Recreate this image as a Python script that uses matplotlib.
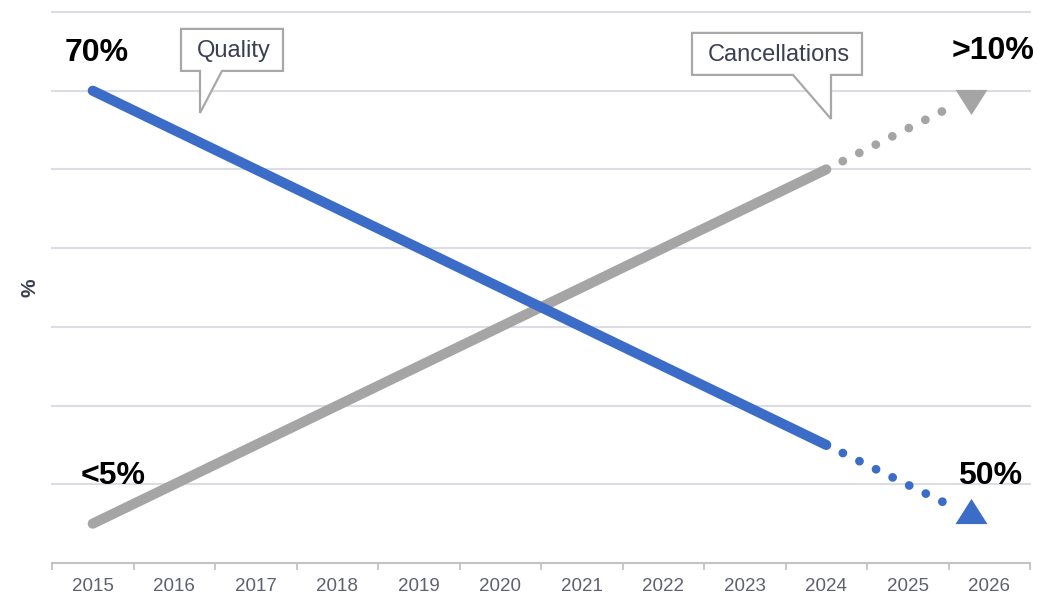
import matplotlib
matplotlib.use("Agg")
import matplotlib.pyplot as plt
from matplotlib.patches import Polygon

# ---- data (values in chart units: one gridline = 1 unit) ----
years = [2015, 2016, 2017, 2018, 2019, 2020, 2021, 2022, 2023, 2024, 2025, 2026]
hist_years = [2015, 2016, 2017, 2018, 2019, 2020, 2021, 2022, 2023, 2024]
quality = [6.0, 5.5, 5.0, 4.5, 4.0, 3.5, 3.0, 2.5, 2.0, 1.5]
cancellations = [0.5, 1.0, 1.5, 2.0, 2.5, 3.0, 3.5, 4.0, 4.5, 5.0]
proj_years = [2024, 2025.62]
quality_proj = [1.5, 0.68]
cancel_proj = [5.0, 5.84]
arrow_year = 2025.78
quality_arrow = 0.66
cancel_arrow = 5.86
label_start = ["70%", "<5%"]
label_end = ["50%", ">10%"]
series_names = ["Quality", "Cancellations"]

BLUE = "#3b6cc8"
GRAY = "#a5a5a5"
NARROW = ["Liberation Sans Narrow", "Liberation Sans", "DejaVu Sans"]
BOLD = ["Liberation Sans", "DejaVu Sans"]

fig = plt.figure(figsize=(10.53, 6.0), dpi=100)
W, H = 1053, 600
ax = fig.add_axes([52 / W, 37 / H, (1030 - 52) / W, (563 - 12) / H])

def xi(y):
    return y - years[0]

ax.set_xlim(-0.5, len(years) - 0.5)
ax.set_ylim(0, 7)

# gridlines
for g in range(1, 8):
    ax.axhline(g, color="#dcdde4", lw=1.5, zorder=0, clip_on=False)

for s in ["top", "right", "left"]:
    ax.spines[s].set_visible(False)
ax.spines["bottom"].set_color("#c3c3c3")
ax.spines["bottom"].set_linewidth(1.5)
ax.set_yticks([])

ax.set_xticks([i - 0.5 for i in range(len(years) + 1)])
ax.set_xticklabels([])
ax.tick_params(axis="x", which="major", length=5, width=1.3, color="#c3c3c3", direction="out")
ax.set_xticks(range(len(years)), minor=True)
ax.set_xticklabels([str(y) for y in years], minor=True, color="#5f6170",
                   fontsize=13.5, family=NARROW)
ax.tick_params(axis="x", which="minor", length=0, pad=11)

fig.text(30 / W, 1 - 288 / H, "%", rotation=90, fontsize=15, fontweight="bold",
         color="#3a3f51", family=BOLD, ha="center", va="center")

# lines
hx = [xi(y) for y in hist_years]
px = [xi(y) for y in proj_years]
ax.plot(hx, quality, color=BLUE, lw=7.3, solid_capstyle="round", zorder=3, clip_on=False)
ax.plot(hx, cancellations, color=GRAY, lw=7.3, solid_capstyle="round", zorder=2, clip_on=False)
ax.plot(px, quality_proj, color=BLUE, lw=6.3, linestyle=(0, (0.01, 2.1)),
        dash_capstyle="round", zorder=3, clip_on=False)
ax.plot(px, cancel_proj, color=GRAY, lw=6.3, linestyle=(0, (0.01, 2.1)),
        dash_capstyle="round", zorder=2, clip_on=False)
up_tri = [(-1.27, -1), (1.27, -1), (0, 1), (-1.27, -1)]
down_tri = [(-1.27, 1), (1.27, 1), (0, -1), (-1.27, 1)]
ax.plot([xi(arrow_year)], [quality_arrow], marker=up_tri, ms=23, color=BLUE,
        mec=BLUE, mew=0, zorder=4, clip_on=False)
ax.plot([xi(arrow_year)], [cancel_arrow], marker=down_tri, ms=23, color=GRAY,
        mec=GRAY, mew=0, zorder=4, clip_on=False)

# value labels
kw = dict(fontsize=23, fontweight="bold", family=BOLD, color="black",
          ha="left", va="center")
ax.text(-0.34, quality[0] + 0.48, label_start[0], **kw)
ax.text(-0.15, cancellations[0] + 0.6, label_start[1], **kw)
ax.text(10.62, quality_proj[-1] + 0.42, label_end[0], **kw)
ax.text(10.54, cancel_proj[-1] + 0.66, label_end[1], **kw)

# callouts (pixel layout converted to data coords)
def px2d(xp, yp):
    return ((xp - 52) / 81.5 - 0.5, (563 - yp) / 78.7)

def callout(box, base, tip, text):
    x0, y0, x1, y1 = box
    b0, b1 = base
    pts = [(x0, y0), (x1, y0), (x1, y1), (b1, y1), tip, (b0, y1), (x0, y1)]
    pts = [px2d(a, b) for a, b in pts]
    poly = Polygon(pts, closed=True, fc="white", ec="#a8a8a8", lw=1.6,
                   zorder=5, clip_on=False, joinstyle="miter")
    ax.add_patch(poly)
    cx, cy = px2d((x0 + x1) / 2 + 2, (y0 + y1) / 2 + 1)
    ax.text(cx, cy, text, fontsize=17, color="#3a3f51", family=NARROW,
            ha="center", va="center", zorder=6)

callout((181, 29, 283, 71), (200, 222), (200, 113), series_names[0])
callout((692, 33, 862, 75), (793, 831), (831, 119), series_names[1])

fig.savefig("out.png", dpi=100)
